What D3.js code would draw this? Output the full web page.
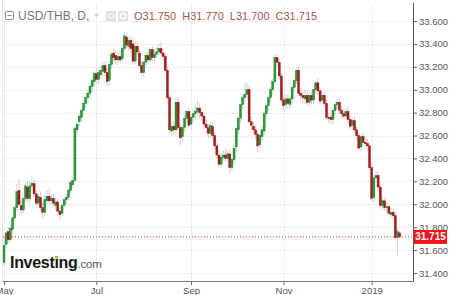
<!DOCTYPE html>
<html>
<head>
<meta charset="utf-8">
<script src="https://cdn.jsdelivr.net/npm/d3@7"></script>
<style>
  body { margin: 0; background: #fff; }
  svg { display: block; font-family: "Liberation Sans", Arial, sans-serif; }
</style>
</head>
<body>
<script>
// USD/THB daily candles, [open, high, low, close]
var symbol = "USD/THB, D,";
var tickLabels = ["May", "Jul", "Sep", "Nov", "2019"];
var priceTicks = [31.4, 31.6, 31.8, 32.0, 32.2, 32.4, 32.6, 32.8, 33.0, 33.2, 33.4, 33.6];

var candlesMayJun = [
  [31.49,31.69,31.46,31.64],[31.65,31.77,31.62,31.75],[31.76,31.80,31.66,31.69],[31.69,31.82,31.66,31.79],
  [31.78,31.90,31.75,31.88],[31.88,31.99,31.85,31.97],[31.97,32.18,31.94,32.11],[32.12,32.22,31.98,32.00],
  [31.99,32.04,31.90,31.95],[31.95,32.08,31.92,32.05],[32.05,32.19,32.02,32.16],[32.15,32.20,32.02,32.05],
  [32.05,32.20,32.01,32.16],[32.16,32.25,32.12,32.18],[32.18,32.22,32.06,32.09],[32.09,32.12,31.96,32.01],
  [32.01,32.10,31.98,32.07],[32.06,32.11,31.94,31.97],[31.97,32.02,31.88,31.93],[31.93,32.08,31.90,32.04],
  [32.03,32.12,32.00,32.07],[32.07,32.14,32.00,32.03],[32.03,32.09,31.99,32.05],[32.05,32.09,31.98,32.01],
  [31.99,32.06,31.95,32.02],[32.02,32.05,31.90,31.94],[31.94,31.98,31.86,31.91],[31.92,32.01,31.89,31.99],
  [31.99,32.06,31.96,32.04],[32.04,32.09,32.00,32.06],[32.06,32.14,32.03,32.12],[32.12,32.21,32.09,32.19],
  [32.17,32.24,32.14,32.21],[32.21,32.68,32.19,32.66],[32.65,32.73,32.61,32.70],[32.72,32.79,32.68,32.77],
  [32.76,32.84,32.72,32.82],[32.82,32.91,32.78,32.88],[32.88,32.95,32.84,32.93],[32.93,33.00,32.87,32.97],
  [32.97,33.06,32.92,33.03],[33.03,33.11,32.98,33.08],[33.07,33.16,33.03,33.14]
];
var candlesJulAug = [
  [33.14,33.19,33.05,33.09],[33.09,33.18,33.05,33.15],[33.13,33.21,33.10,33.17],[33.16,33.24,33.12,33.21],
  [33.21,33.25,33.12,33.15],[33.15,33.19,33.03,33.07],[33.08,33.25,33.04,33.22],[33.22,33.33,33.18,33.31],
  [33.32,33.36,33.25,33.28],[33.30,33.34,33.22,33.26],[33.26,33.33,33.22,33.29],[33.29,33.34,33.23,33.26],
  [33.27,33.39,33.24,33.36],[33.36,33.50,33.33,33.47],[33.46,33.49,33.36,33.39],[33.38,33.46,33.34,33.43],
  [33.43,33.47,33.33,33.36],[33.40,33.45,33.22,33.25],[33.25,33.42,33.22,33.38],[33.38,33.42,33.30,33.33],
  [33.32,33.35,33.19,33.21],[33.21,33.25,33.12,33.15],[33.15,33.26,33.11,33.24],[33.24,33.33,33.20,33.30],
  [33.30,33.35,33.22,33.26],[33.26,33.37,33.23,33.35],[33.35,33.38,33.25,33.28],[33.28,33.35,33.24,33.31],
  [33.31,33.37,33.27,33.33],[33.33,33.40,33.30,33.36],[33.36,33.42,33.29,33.32],[33.32,33.36,33.25,33.29],
  [33.29,33.32,33.15,33.17],[33.17,33.20,32.90,32.93],[32.93,32.96,32.62,32.65],[32.64,32.72,32.60,32.68],
  [32.68,32.72,32.61,32.65],[32.65,32.93,32.61,32.89],[32.89,32.93,32.65,32.67],[32.67,32.70,32.51,32.58],
  [32.59,32.69,32.55,32.67],[32.67,32.78,32.63,32.75],[32.75,32.83,32.71,32.81],[32.81,32.85,32.66,32.69]
];
var candlesSepOct = [
  [32.70,32.79,32.66,32.76],[32.76,32.82,32.72,32.79],[32.79,32.87,32.74,32.81],[32.81,32.91,32.77,32.84],
  [32.84,32.89,32.75,32.80],[32.80,32.83,32.73,32.77],[32.77,32.80,32.66,32.70],[32.70,32.74,32.62,32.67],
  [32.67,32.70,32.58,32.62],[32.62,32.72,32.58,32.69],[32.68,32.72,32.56,32.60],[32.60,32.63,32.48,32.51],
  [32.51,32.55,32.40,32.43],[32.43,32.47,32.32,32.35],[32.35,32.45,32.32,32.41],[32.41,32.47,32.38,32.43],
  [32.43,32.48,32.37,32.40],[32.40,32.47,32.37,32.44],[32.44,32.47,32.27,32.32],[32.32,32.41,32.29,32.39],
  [32.39,32.52,32.35,32.49],[32.50,32.69,32.46,32.66],[32.65,32.77,32.61,32.75],[32.75,32.88,32.71,32.87],
  [32.87,32.95,32.83,32.93],[32.93,33.06,32.89,32.96],[32.96,33.06,32.92,33.00],[33.00,33.04,32.69,32.72],
  [32.72,32.76,32.65,32.69],[32.68,32.72,32.61,32.65],[32.65,32.69,32.57,32.61],[32.61,32.64,32.45,32.51],
  [32.52,32.62,32.48,32.60],[32.59,32.68,32.55,32.65],[32.64,32.81,32.60,32.79],[32.79,32.88,32.75,32.86],
  [32.86,32.95,32.82,32.93],[32.93,33.03,32.89,33.00],[33.00,33.10,32.96,33.07],[33.07,33.31,33.04,33.28],
  [33.28,33.31,33.20,33.24],[33.24,33.27,33.09,33.12],[33.12,33.15,32.88,32.91]
];
var candlesNovDec = [
  [32.91,32.95,32.82,32.86],[32.87,32.95,32.83,32.92],[32.92,32.96,32.84,32.88],[32.87,32.95,32.83,32.92],
  [32.92,33.04,32.88,33.02],[33.02,33.11,32.98,33.08],[33.08,33.20,33.05,33.17],[33.17,33.21,32.94,32.97],
  [32.97,33.01,32.91,32.95],[32.95,32.99,32.88,32.93],[32.92,33.00,32.88,32.95],[32.95,33.00,32.86,32.89],
  [32.89,32.98,32.85,32.95],[32.95,32.99,32.87,32.91],[32.91,33.02,32.87,33.00],[33.00,33.08,32.96,33.06],
  [33.06,33.10,32.96,32.99],[32.99,33.02,32.87,32.90],[32.91,32.98,32.87,32.95],[32.95,32.98,32.85,32.88],
  [32.88,32.92,32.73,32.76],[32.76,32.80,32.71,32.75],[32.76,32.79,32.70,32.74],[32.74,32.84,32.70,32.82],
  [32.82,32.90,32.78,32.87],[32.87,32.92,32.83,32.89],[32.89,32.93,32.79,32.82],[32.82,32.86,32.75,32.79],
  [32.79,32.83,32.74,32.77],[32.77,32.84,32.73,32.81],[32.81,32.85,32.71,32.74],[32.74,32.78,32.65,32.68],
  [32.69,32.76,32.65,32.73],[32.73,32.77,32.62,32.65],[32.65,32.68,32.56,32.60],[32.60,32.63,32.46,32.49],
  [32.50,32.61,32.46,32.59],[32.59,32.63,32.51,32.54],[32.54,32.58,32.49,32.53],[32.53,32.57,32.47,32.51],
  [32.51,32.54,32.30,32.32]
];
var candlesJan = [
  [32.32,32.36,32.03,32.05],[32.06,32.25,32.02,32.23],[32.23,32.29,32.19,32.25],[32.25,32.29,32.12,32.15],
  [32.15,32.18,31.97,31.99],[31.99,32.07,31.95,32.03],[32.03,32.06,31.94,31.97],[31.97,32.02,31.93,31.98],
  [31.98,32.01,31.90,31.92],[31.91,31.97,31.88,31.93],[31.93,31.97,31.87,31.90],[31.90,31.93,31.68,31.71],
  [31.71,31.79,31.56,31.76],[31.750,31.770,31.700,31.715]
];

var segments = [candlesMayJun, candlesJulAug, candlesSepOct, candlesNovDec, candlesJan];
var candles = [].concat.apply([], segments);
var tickIndex = [];
segments.reduce(function(n, s) { tickIndex.push(n); return n + s.length; }, 0);
var last = candles[candles.length - 1];

var W = 449, H = 295;
var plot = { left: 3, right: 413, top: 3, bottom: 281 };
var fmt = d3.format('.3f');

var svg = d3.select('body').append('svg').attr('width', W).attr('height', H);

var x = d3.scaleBand().domain(d3.range(candles.length)).range([2.9, 400.7]);
var xc = function(i) { return x(i) + x.bandwidth() / 2; };
var y = d3.scaleLinear().domain([31.4, 33.6]).range([273, 21]);

// grid
svg.append('g').selectAll('line').data(priceTicks).enter().append('line')
  .attr('x1', plot.left).attr('x2', plot.right)
  .attr('y1', function(d) { return Math.round(y(d)) + 0.5; })
  .attr('y2', function(d) { return Math.round(y(d)) + 0.5; })
  .attr('stroke', '#efefef');
svg.append('g').selectAll('line').data(tickIndex).enter().append('line')
  .attr('x1', function(d) { return Math.round(xc(d)) + 0.5; })
  .attr('x2', function(d) { return Math.round(xc(d)) + 0.5; })
  .attr('y1', plot.top).attr('y2', plot.bottom)
  .attr('stroke', '#efefef');
svg.append('line').attr('x1', 2.5).attr('x2', 2.5).attr('y1', 0).attr('y2', plot.bottom)
  .attr('stroke', '#e4e4e4');

// logo
var logo = svg.append('text').attr('x', 10).attr('y', 268)
  .attr('font-size', 16).attr('font-weight', 'bold').attr('fill', '#151515')
  .attr('letter-spacing', -0.3);
logo.append('tspan').text('Investing');
logo.append('tspan').text('.com').attr('font-weight', 'normal').attr('font-size', 11.5)
  .attr('fill', '#555').attr('letter-spacing', -0.2);
var iBox = logo.node().getExtentOfChar(6);
svg.append('rect').attr('x', iBox.x + 0.6).attr('y', 256).attr('width', iBox.width - 1.4).attr('height', 2.6)
  .attr('fill', '#f7a11a');

// candles
var clip = svg.append('clipPath').attr('id', 'clip').append('rect')
  .attr('x', plot.left).attr('y', plot.top)
  .attr('width', plot.right - plot.left).attr('height', plot.bottom - plot.top);
var gc = svg.append('g').attr('clip-path', 'url(#clip)');
var up = function(d) { return d[3] >= d[0]; };

gc.selectAll('line.wick').data(candles).enter().append('line')
  .attr('class', 'wick')
  .attr('x1', function(d, i) { return xc(i); })
  .attr('x2', function(d, i) { return xc(i); })
  .attr('y1', function(d) { return y(d[1]); })
  .attr('y2', function(d) { return y(d[2]); })
  .attr('stroke', function(d) { return up(d) ? '#bcd9e2' : '#f6c1c3'; })
  .attr('stroke-width', 1);

gc.selectAll('rect.body').data(candles).enter().append('rect')
  .attr('class', 'body')
  .attr('x', function(d, i) { return xc(i) - 1; })
  .attr('width', 2)
  .attr('y', function(d) { return y(Math.max(d[0], d[3])); })
  .attr('height', function(d) { return Math.max(1, Math.abs(y(d[0]) - y(d[3]))); })
  .attr('fill', function(d) { return up(d) ? '#26a131' : '#b5161b'; })
  .attr('stroke', function(d) { return up(d) ? '#1b6a22' : '#6e1010'; })
  .attr('stroke-width', 0.4);

// last price line
svg.append('line').attr('x1', plot.left).attr('x2', plot.right)
  .attr('y1', y(last[3])).attr('y2', y(last[3]))
  .attr('stroke', '#e8242b').attr('stroke-dasharray', '1,2');

// right axis
var yAxis = d3.axisRight(y).tickValues(priceTicks).tickFormat(fmt).tickSize(4).tickPadding(2);
var ga = svg.append('g').attr('transform', 'translate(' + plot.right + ',0)').call(yAxis);
ga.select('.domain').remove();
ga.selectAll('line').attr('stroke', '#666');
ga.selectAll('text').attr('fill', '#555').attr('font-size', 9.5)
  .attr('font-family', '"Liberation Sans", Arial, sans-serif');
svg.append('line').attr('x1', plot.right + 0.5).attr('x2', plot.right + 0.5)
  .attr('y1', plot.top).attr('y2', plot.bottom).attr('stroke', '#555');

// bottom axis
var xl = d3.scaleLinear().domain([0, candles.length - 1]).range([xc(0), xc(candles.length - 1)]);
var xAxis = d3.axisBottom(xl).tickValues(tickIndex)
  .tickFormat(function(d, i) { return tickLabels[i]; }).tickSize(4).tickPadding(2);
var gx = svg.append('g').attr('transform', 'translate(0,' + plot.bottom + ')').call(xAxis);
gx.select('.domain').remove();
gx.selectAll('line').attr('stroke', '#666');
gx.selectAll('text').attr('fill', '#555').attr('font-size', 9.5)
  .attr('font-family', '"Liberation Sans", Arial, sans-serif');
svg.append('line').attr('x1', plot.left).attr('x2', plot.right + 1)
  .attr('y1', plot.bottom + 0.5).attr('y2', plot.bottom + 0.5).attr('stroke', '#777');

// last price badge
var ly = y(last[3]);
svg.append('rect').attr('x', plot.right + 1).attr('y', ly - 7).attr('width', 33).attr('height', 14)
  .attr('fill', '#f0141c');
svg.append('text').attr('x', plot.right + 17.5).attr('y', ly + 3.5).attr('text-anchor', 'middle')
  .attr('fill', '#fff').attr('font-size', 10).attr('font-weight', 'bold').text(fmt(last[3]));

// legend
var lg = svg.append('g');
lg.append('rect').attr('x', 5.5).attr('y', 11.5).attr('width', 8).attr('height', 8)
  .attr('fill', 'none').attr('stroke', '#888').attr('rx', 1);
lg.append('line').attr('x1', 7.5).attr('x2', 11.5).attr('y1', 15.5).attr('y2', 15.5).attr('stroke', '#888');
lg.append('text').attr('x', 18).attr('y', 20).attr('font-size', 12).attr('fill', '#777').text(symbol);
lg.append('path').attr('d', 'M94,14 L99,14 L96.5,17 Z').attr('fill', '#ccc');
lg.append('rect').attr('x', 106).attr('y', 11).attr('width', 10).attr('height', 10).attr('fill', '#e2e2e2');
lg.append('circle').attr('cx', 111).attr('cy', 16).attr('r', 2.5).attr('fill', 'none').attr('stroke', '#fff');
lg.append('rect').attr('x', 118).attr('y', 11).attr('width', 10).attr('height', 10).attr('fill', '#e2e2e2');
lg.append('circle').attr('cx', 123).attr('cy', 16).attr('r', 2.8).attr('fill', 'none').attr('stroke', '#fff').attr('stroke-width', 1.5);

var ohlc = lg.append('text').attr('x', 134).attr('y', 20).attr('font-size', 11).attr('fill', '#a0584c');
['O', 'H', 'L', 'C'].forEach(function(k, j) {
  var v = [last[0], last[1], last[2], last[3]][j];
  ohlc.append('tspan').attr('dx', j ? 6 : 0).text(k + fmt(v));
});
</script>
</body>
</html>
